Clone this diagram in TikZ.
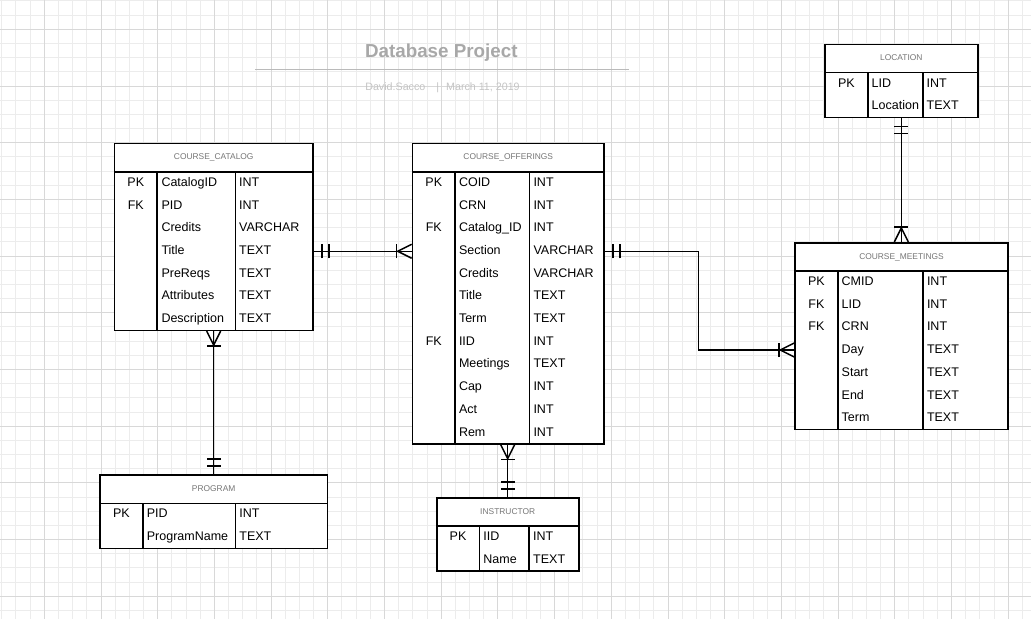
\documentclass[tikz,border=0pt]{standalone}
\usepackage{fontspec}
\setmainfont{Liberation Sans}
\usetikzlibrary{positioning, calc, decorations.markings}
\definecolor{gridminor}{RGB}{236, 236, 236}
\definecolor{gridmajor}{RGB}{216, 216, 216}
\definecolor{titlegray}{RGB}{168, 168, 168}
\definecolor{rulegray}{RGB}{186, 186, 186}
\definecolor{subgray}{RGB}{196, 196, 196}
\definecolor{headgray}{RGB}{118, 118, 118}
\newcommand{\fieldfont}{\fontsize{12.5}{15}\selectfont}
\newcommand{\headfont}{\fontsize{8.4}{10}\selectfont}
\tikzset{
  minorline/.style={line width=1pt, gridminor},
  majorline/.style={line width=1pt, gridmajor},
  tablebox/.style={draw, fill=white, line width=1.6pt, inner sep=0pt},
  headbox/.style={draw, line width=1.6pt, minimum height=28.3pt, inner sep=0pt, anchor=north,
    text=headgray, font=\headfont, text height=6pt, text depth=1.5pt},
  tableline/.style={line width=1.6pt},
  keycell/.style={anchor=base, inner sep=0pt, font=\fieldfont},
  fieldcell/.style={anchor=base west, inner sep=0pt, font=\fieldfont},
  relline/.style={line width=1.5pt},
  barmark/.style={line width=1.5pt},
  onestart/.style={postaction={decorate, decoration={markings,
      mark=at position 8pt with {\draw[barmark] (0pt,-7pt) -- (0pt,7pt);},
      mark=at position 15pt with {\draw[barmark] (0pt,-7pt) -- (0pt,7pt);}}}},
  manyend/.style={postaction={decorate, decoration={markings,
      mark=at position -15pt with {\draw[barmark] (0pt,-7pt) -- (0pt,7pt);
        \draw[barmark] (15pt,7pt) -- (1pt,0pt) -- (15pt,-7pt);}}}}
}

\begin{document}
\begin{tikzpicture}[x=1pt, y=-1pt]
    \useasboundingbox (0,0) rectangle (1031,619);
    % grid
    \foreach \j in {-3,...,69}
      \draw[minorline] ({44.3+14.175*\j},0) -- ({44.3+14.175*\j},619);
    \foreach \j in {-2,...,41}
      \draw[minorline] (0,{29.3+14.175*\j}) -- (1031,{29.3+14.175*\j});
    \foreach \j in {0,...,17}
      \draw[majorline] ({44.3+56.7*\j},0) -- ({44.3+56.7*\j},619);
    \foreach \j in {0,...,10}
      \draw[majorline] (0,{29.3+56.7*\j}) -- (1031,{29.3+56.7*\j});

    % title
    \node[font=\fontsize{18.8}{22}\selectfont\bfseries, text=titlegray, anchor=base] (title) at (441.3,57.5) {Database Project};
    \draw[line width=1.4pt, rulegray] (255.3,69.3) -- (629,69.3);
    \node[font=\fontsize{10.7}{13}\selectfont, text=subgray, anchor=base] (byline) at (442.5,90) {David.Sacco\hspace{11pt}|\hspace{7pt}March 11, 2019};

    % COURSE_CATALOG
    \node[tablebox, minimum width=198.5pt, minimum height=186.8pt] (catalog) at (213.75,236.9) {};
    \node[headbox, minimum width=198.5pt] (catalog-head) at (catalog.north) {COURSE\_CATALOG};
    \draw[tableline] (157,171.8) -- (157,330.3) (235.5,171.8) -- (235.5,330.3);
    \foreach \pk/\fname/\ftype [count=\i] in {PK/CatalogID/INT, FK/PID/INT, /Credits/VARCHAR, /Title/TEXT, /PreReqs/TEXT, /Attributes/TEXT, /Description/TEXT}{
      \node[keycell] (catalog-k\i) at (135.75,{186.3+22.7*(\i-1)}) {\pk};
      \node[fieldcell] (catalog-f\i) at (161.3,{186.3+22.7*(\i-1)}) {\fname};
      \node[fieldcell] (catalog-t\i) at (239,{186.3+22.7*(\i-1)}) {\ftype};
    }

    % COURSE_OFFERINGS
    \node[tablebox, minimum width=191.5pt, minimum height=300.3pt] (offerings) at (508.25,293.65) {};
    \node[headbox, minimum width=191.5pt] (offerings-head) at (offerings.north) {COURSE\_OFFERINGS};
    \draw[tableline] (455,171.8) -- (455,443.8) (529.3,171.8) -- (529.3,443.8);
    \foreach \pk/\fname/\ftype [count=\i] in {PK/COID/INT, /CRN/INT, FK/Catalog\_ID/INT, /Section/VARCHAR, /Credits/VARCHAR, /Title/TEXT, /Term/TEXT, FK/IID/INT, /Meetings/TEXT, /Cap/INT, /Act/INT, /Rem/INT}{
      \node[keycell] (offerings-k\i) at (433.75,{186.3+22.7*(\i-1)}) {\pk};
      \node[fieldcell] (offerings-f\i) at (458.8,{186.3+22.7*(\i-1)}) {\fname};
      \node[fieldcell] (offerings-t\i) at (533.3,{186.3+22.7*(\i-1)}) {\ftype};
    }

    % LOCATION
    \node[tablebox, minimum width=152.7pt, minimum height=73.3pt] (location) at (901.35,80.95) {};
    \node[headbox, minimum width=152.7pt] (location-head) at (location.north) {LOCATION};
    \draw[tableline] (867.7,72.6) -- (867.7,117.6) (922.7,72.6) -- (922.7,117.6);
    \foreach \pk/\fname/\ftype [count=\i] in {PK/LID/INT, /Location/TEXT}{
      \node[keycell] (location-k\i) at (846.35,{87.1+22.7*(\i-1)}) {\pk};
      \node[fieldcell] (location-f\i) at (871.5,{87.1+22.7*(\i-1)}) {\fname};
      \node[fieldcell] (location-t\i) at (926.5,{87.1+22.7*(\i-1)}) {\ftype};
    }

    % COURSE_MEETINGS
    \node[tablebox, minimum width=213pt, minimum height=186.8pt] (meetings) at (901.5,336.1) {};
    \node[headbox, minimum width=213pt] (meetings-head) at (meetings.north) {COURSE\_MEETINGS};
    \draw[tableline] (837.7,271) -- (837.7,429.5) (923,271) -- (923,429.5);
    \foreach \pk/\fname/\ftype [count=\i] in {PK/CMID/INT, FK/LID/INT, FK/CRN/INT, /Day/TEXT, /Start/TEXT, /End/TEXT, /Term/TEXT}{
      \node[keycell] (meetings-k\i) at (816.35,{285.5+22.7*(\i-1)}) {\pk};
      \node[fieldcell] (meetings-f\i) at (841.5,{285.5+22.7*(\i-1)}) {\fname};
      \node[fieldcell] (meetings-t\i) at (926.8,{285.5+22.7*(\i-1)}) {\ftype};
    }

    % PROGRAM
    \node[tablebox, minimum width=227.3pt, minimum height=73.3pt] (program) at (213.65,511.65) {};
    \node[headbox, minimum width=227.3pt] (program-head) at (program.north) {PROGRAM};
    \draw[tableline] (142.7,503.3) -- (142.7,548.3) (235.3,503.3) -- (235.3,548.3);
    \foreach \pk/\fname/\ftype [count=\i] in {PK/PID/INT, /ProgramName/TEXT}{
      \node[keycell] (program-k\i) at (121.35,{517.8+22.7*(\i-1)}) {\pk};
      \node[fieldcell] (program-f\i) at (146.7,{517.8+22.7*(\i-1)}) {\fname};
      \node[fieldcell] (program-t\i) at (239.2,{517.8+22.7*(\i-1)}) {\ftype};
    }

    % INSTRUCTOR
    \node[tablebox, minimum width=142pt, minimum height=73.3pt] (instructor) at (507.7,534.35) {};
    \node[headbox, minimum width=142pt] (instructor-head) at (instructor.north) {INSTRUCTOR};
    \draw[tableline] (479.3,526) -- (479.3,571) (529,526) -- (529,571);
    \foreach \pk/\fname/\ftype [count=\i] in {PK/IID/INT, /Name/TEXT}{
      \node[keycell] (instructor-k\i) at (458,{540.5+22.7*(\i-1)}) {\pk};
      \node[fieldcell] (instructor-f\i) at (483.2,{540.5+22.7*(\i-1)}) {\fname};
      \node[fieldcell] (instructor-t\i) at (533,{540.5+22.7*(\i-1)}) {\ftype};
    }

    % relations
    \draw[relline, onestart, manyend] ([yshift=-14.4pt]catalog.east) -- ([yshift=42.35pt]offerings.west);
    \draw[relline, onestart, manyend] ([yshift=42.35pt]offerings.east) -| ([xshift=-95.7pt, yshift=-13.9pt]meetings.west) -- ([yshift=-13.9pt]meetings.west);
    \draw[relline, onestart, manyend] (location.south) -- (location.south |- meetings.north);
    \draw[relline, onestart, manyend] (program.north) -- (program.north |- catalog.south);
    \draw[relline, onestart, manyend] (instructor.north) -- (instructor.north |- offerings.south);
\end{tikzpicture}
\end{document}
